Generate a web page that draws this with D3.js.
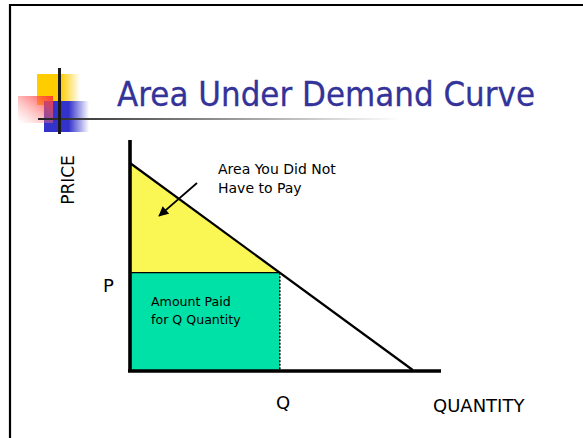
<!DOCTYPE html>
<html>
<head>
<meta charset="utf-8">
<script src="https://cdnjs.cloudflare.com/ajax/libs/d3/7.8.5/d3.min.js"></script>
<style>
  html, body { margin: 0; padding: 0; background: #fff; }
  svg { display: block; }
  text { font-family: "DejaVu Sans", Verdana, sans-serif; fill: #000; }
</style>
</head>
<body>
<script>
// demand curve and market point (quantity, price)
var demandQ = [0, 10];
var demandP = [9, 0];
var marketQ = 5.3;
var marketP = 4.23;
var quantityExtent = [0, 11];
var priceExtent = [0, 10];
// arrow pointing into the surplus triangle
var arrowQ = [2.37, 1.03];
var arrowP = [8.13, 6.70];

var width = 583,
    height = 438;

var svg = d3.select("body").append("svg")
    .attr("width", width)
    .attr("height", height);

var defs = svg.append("defs");

function fadeRight(id, color, start) {
    var g = defs.append("linearGradient").attr("id", id)
        .attr("x1", 0).attr("y1", 0).attr("x2", 1).attr("y2", 0);
    g.append("stop").attr("offset", start).attr("stop-color", color);
    g.append("stop").attr("offset", 1).attr("stop-color", "#fff");
}
fadeRight("gYellow", "#ffcc00", 0.55);
fadeRight("gBlue", "#3333cc", 0.55);

var pink = defs.append("linearGradient").attr("id", "gPink")
    .attr("x1", 1).attr("y1", 0).attr("x2", 0).attr("y2", 1);
pink.append("stop").attr("offset", 0).attr("stop-color", "#ff3333").attr("stop-opacity", 0.95);
pink.append("stop").attr("offset", 1).attr("stop-color", "#ff9999").attr("stop-opacity", 0);

var rule = defs.append("linearGradient").attr("id", "gRule")
    .attr("x1", 0).attr("y1", 0).attr("x2", 1).attr("y2", 0);
rule.append("stop").attr("offset", 0).attr("stop-color", "#222");
rule.append("stop").attr("offset", 1).attr("stop-color", "#fff");

defs.append("marker")
    .attr("id", "head")
    .attr("viewBox", "0 0 10 10")
    .attr("refX", 9).attr("refY", 5)
    .attr("markerWidth", 11).attr("markerHeight", 10)
    .attr("markerUnits", "userSpaceOnUse")
    .attr("orient", "auto")
  .append("path")
    .attr("d", "M0,0L10,5L0,10z")
    .attr("fill", "#000");

// slide frame
svg.append("path")
    .attr("d", "M10,438V5H583")
    .attr("fill", "none")
    .attr("stroke", "#000")
    .attr("stroke-width", 2.2);

// title decoration
var deco = svg.append("g");
deco.append("rect").attr("x", 37).attr("y", 74).attr("width", 43).attr("height", 31).attr("fill", "url(#gYellow)");
deco.append("rect").attr("x", 44).attr("y", 101).attr("width", 45).attr("height", 31).attr("fill", "url(#gBlue)");
deco.append("rect").attr("x", 18).attr("y", 96).attr("width", 35).attr("height", 27).attr("fill", "url(#gPink)");
deco.append("rect").attr("x", 38).attr("y", 118).attr("width", 362).attr("height", 2).attr("fill", "url(#gRule)");
deco.append("rect").attr("x", 58).attr("y", 68).attr("width", 3).attr("height", 66).attr("fill", "#1a1a1a");

svg.append("text")
    .attr("x", 117).attr("y", 106)
    .attr("font-size", 33)
    .attr("textLength", 418)
    .attr("lengthAdjust", "spacingAndGlyphs")
    .style("fill", "#333399")
    .style("stroke", "#333399")
    .style("stroke-width", 0.3)
    .text("Area Under Demand Curve");

// chart
var x = d3.scaleLinear().domain(quantityExtent).range([130, 441]);
var y = d3.scaleLinear().domain(priceExtent).range([370, 140]);

var line = d3.line()
    .x(function(d) { return x(d[0]); })
    .y(function(d) { return y(d[1]); });

var demand = demandQ.map(function(q, i) { return [q, demandP[i]]; });

// consumer surplus triangle
svg.append("path")
    .attr("d", line([[0, demandP[0]], [0, marketP], [marketQ, marketP]]) + "Z")
    .attr("fill", "#faf653");

// amount paid
svg.append("rect")
    .attr("x", x(0))
    .attr("y", y(marketP))
    .attr("width", x(marketQ) - x(0))
    .attr("height", y(0) - y(marketP))
    .attr("fill", "#00e1a7");

svg.append("path")
    .attr("d", line([[0, marketP], [marketQ, marketP]]))
    .attr("stroke", "#000")
    .attr("stroke-width", 1.3);

svg.append("path")
    .attr("d", line([[marketQ, marketP], [marketQ, 0]]))
    .attr("stroke", "#000")
    .attr("stroke-width", 1.5)
    .attr("stroke-dasharray", "2,1.5");

svg.append("path")
    .attr("d", line(demand))
    .attr("fill", "none")
    .attr("stroke", "#000")
    .attr("stroke-width", 2.2);

// axes
svg.append("path")
    .attr("d", line([[quantityExtent[0], priceExtent[1]], [0, 0]]))
    .attr("stroke", "#000")
    .attr("stroke-width", 3.6);
svg.append("path")
    .attr("d", "M" + (x(0) - 2) + "," + (y(0) + 1) + "H" + x(quantityExtent[1]))
    .attr("stroke", "#000")
    .attr("stroke-width", 3.4);

// arrow
svg.append("path")
    .attr("d", line(arrowQ.map(function(q, i) { return [q, arrowP[i]]; })))
    .attr("stroke", "#000")
    .attr("stroke-width", 1.8)
    .attr("marker-end", "url(#head)");

// labels
svg.append("text").attr("x", 218).attr("y", 174).attr("font-size", 14).text("Area You Did Not");
svg.append("text").attr("x", 218).attr("y", 193).attr("font-size", 14).text("Have to Pay");
svg.append("text").attr("x", 151).attr("y", 306).attr("font-size", 12.6).text("Amount Paid");
svg.append("text").attr("x", 151).attr("y", 324).attr("font-size", 12.6).text("for Q Quantity");

svg.append("text")
    .attr("transform", "translate(74,180) rotate(-90)")
    .attr("text-anchor", "middle")
    .attr("font-size", 17)
    .text("PRICE");
svg.append("text").attr("x", 103).attr("y", 292).attr("font-size", 18).text("P");
svg.append("text").attr("x", 283).attr("y", 409).attr("text-anchor", "middle").attr("font-size", 18).text("Q");
svg.append("text").attr("x", 433).attr("y", 412).attr("font-size", 18).text("QUANTITY");
</script>
</body>
</html>
